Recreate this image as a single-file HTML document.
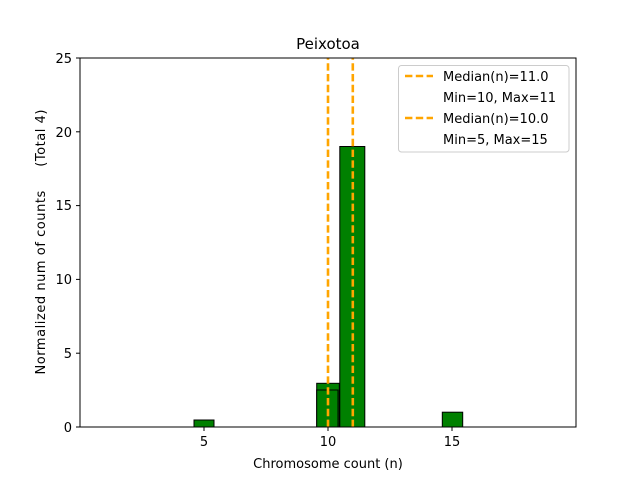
<!DOCTYPE html>
<html><head><meta charset="utf-8"><style>body{margin:0;background:#fff}svg{display:block}</style></head><body>
<svg width="640" height="480" xmlns="http://www.w3.org/2000/svg" font-family="DejaVu Sans, Liberation Sans, sans-serif">
<rect width="640" height="480" fill="#fff"/>
<g fill="#008000" stroke="#000" stroke-width="1">
<rect x="194" y="420" width="20" height="7"/>
<rect x="316.7" y="383.3" width="22.6" height="43.7"/>
<rect x="316.7" y="390" width="21.3" height="37"/>
<rect x="339.8" y="146.5" width="25" height="280.5"/>
<rect x="442.3" y="412.2" width="20.4" height="14.8"/>
</g>
<g stroke="#FFA500" stroke-width="2.6" stroke-dasharray="7.4,3.4" fill="none">
<path d="M328 427 V58"/>
<path d="M352.8 427 V58"/>
</g>
<rect x="80" y="58" width="496" height="369" fill="none" stroke="#000" stroke-width="1"/>
<g stroke="#000">
<line x1="204" y1="427" x2="204" y2="431"/><line x1="328" y1="427" x2="328" y2="431"/><line x1="452" y1="427" x2="452" y2="431"/>
<line x1="76" y1="427" x2="80" y2="427"/><line x1="76" y1="353.2" x2="80" y2="353.2"/><line x1="76" y1="279.4" x2="80" y2="279.4"/><line x1="76" y1="205.6" x2="80" y2="205.6"/><line x1="76" y1="131.8" x2="80" y2="131.8"/><line x1="76" y1="58" x2="80" y2="58"/>
</g>
<g font-size="13" fill="#000" text-anchor="middle">
<text x="204" y="446">5</text><text x="328" y="446">10</text><text x="452" y="446">15</text>
</g>
<g font-size="13" fill="#000" text-anchor="end">
<text x="72" y="432">0</text><text x="72" y="358">5</text><text x="72" y="284">10</text><text x="72" y="210">15</text><text x="72" y="137">20</text><text x="72" y="63">25</text>
</g>
<text x="328" y="468" font-size="13" text-anchor="middle">Chromosome count (n)</text>
<text x="328" y="49" font-size="15" text-anchor="middle">Peixotoa</text>
<text transform="translate(45,242) rotate(-90)" font-size="13" text-anchor="middle" textLength="265" lengthAdjust="spacing" xml:space="preserve">Normalized num of counts     (Total 4)</text>
<rect x="398.5" y="65.5" width="170.5" height="86.5" rx="3" fill="#fff" fill-opacity="0.8" stroke="#ccc"/>
<g stroke="#FFA500" stroke-width="2.6" stroke-dasharray="7.4,3.4">
<line x1="405" y1="76" x2="433" y2="76"/><line x1="405" y1="118" x2="433" y2="118"/>
</g>
<g font-size="13" fill="#000">
<text x="443" y="81">Median(n)=11.0</text>
<text x="443" y="102">Min=10, Max=11</text>
<text x="443" y="123">Median(n)=10.0</text>
<text x="443" y="144">Min=5, Max=15</text>
</g>
</svg>
</body></html>
